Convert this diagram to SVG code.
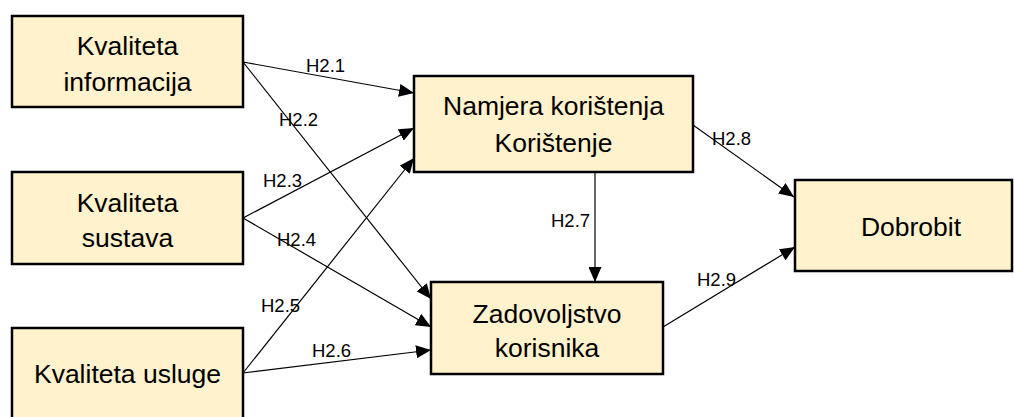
<svg xmlns="http://www.w3.org/2000/svg" width="1014" height="417" viewBox="0 0 1014 417">
<defs>
<marker id="arr" markerUnits="userSpaceOnUse" markerWidth="15" markerHeight="13" refX="15" refY="6.5" orient="auto">
<path d="M0,0 L15,6.5 L0,13 z" fill="#000"/>
</marker>
<style>
.box{fill:#FFF2CC;stroke:#000;stroke-width:2.5}
.bt{font-family:"Liberation Sans",Arial,sans-serif;font-size:26.5px;fill:#000;text-anchor:middle}
.lbl{font-family:"Liberation Sans",Arial,sans-serif;font-size:18.5px;fill:#000}
.c{stroke:#000;stroke-width:1.2;fill:none;marker-end:url(#arr)}
</style>
</defs>
<rect width="1014" height="417" fill="#fff"/>
<g id="connectors">
<line class="c" x1="243" y1="62" x2="414" y2="93"/>
<line class="c" x1="243" y1="62" x2="431" y2="299"/>
<line class="c" x1="243" y1="218" x2="414" y2="128"/>
<line class="c" x1="243" y1="218" x2="431" y2="327"/>
<line class="c" x1="243" y1="373" x2="414" y2="158"/>
<line class="c" x1="243" y1="373" x2="431" y2="350"/>
<line class="c" x1="595" y1="173" x2="595" y2="282"/>
<line class="c" x1="693" y1="125" x2="794" y2="197"/>
<line class="c" x1="663" y1="327" x2="795" y2="247"/>
<text class="lbl" x="306" y="72">H2.1</text>
<text class="lbl" x="279" y="126">H2.2</text>
<text class="lbl" x="263" y="187">H2.3</text>
<text class="lbl" x="277" y="246">H2.4</text>
<text class="lbl" x="261" y="312">H2.5</text>
<text class="lbl" x="312" y="357">H2.6</text>
<text class="lbl" x="551" y="227">H2.7</text>
<text class="lbl" x="712" y="145">H2.8</text>
<text class="lbl" x="697" y="286">H2.9</text>
</g>
<g id="n-info">
<rect class="box" x="12" y="16" width="231" height="91"/>
<text class="bt" x="127.5" y="55">Kvaliteta</text>
<text class="bt" x="127.5" y="91">informacija</text>
</g>
<g id="n-sustav">
<rect class="box" x="12" y="172" width="231" height="92"/>
<text class="bt" x="127.5" y="212">Kvaliteta</text>
<text class="bt" x="127.5" y="247">sustava</text>
</g>
<g id="n-usluga">
<rect class="box" x="12" y="328" width="231" height="95"/>
<text class="bt" x="127.5" y="383">Kvaliteta usluge</text>
</g>
<g id="n-namjera">
<rect class="box" x="414" y="76" width="279" height="96"/>
<text class="bt" x="553.5" y="115">Namjera korištenja</text>
<text class="bt" x="553.5" y="152">Korištenje</text>
</g>
<g id="n-zadovoljstvo">
<rect class="box" x="431" y="282" width="232" height="92"/>
<text class="bt" x="547" y="323">Zadovoljstvo</text>
<text class="bt" x="547" y="357">korisnika</text>
</g>
<g id="n-dobrobit">
<rect class="box" x="795" y="180" width="217" height="91"/>
<text class="bt" x="911" y="236">Dobrobit</text>
</g>
</svg>
